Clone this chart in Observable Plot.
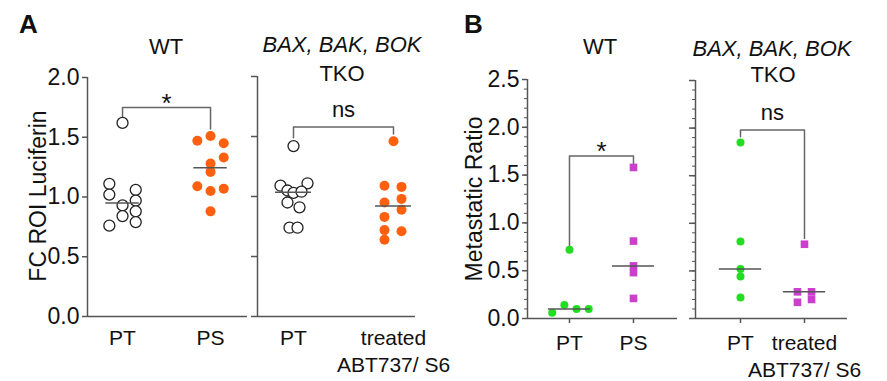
<!DOCTYPE html>
<html>
<head>
<meta charset="utf-8">
<script src="https://cdn.jsdelivr.net/npm/d3@7"></script>
<script src="https://cdn.jsdelivr.net/npm/@observablehq/plot@0.6"></script>
<style>
  html, body { margin: 0; padding: 0; background: #fff; }
  #root { position: relative; width: 887px; height: 381px; overflow: hidden; font-family: "Liberation Sans", Arial, Helvetica, sans-serif; color: #111; }
  .panel { position: absolute; top: 0; }
  .panel g[aria-label="y-axis tick label"] { font-size: 23px !important; }
  .panel g[aria-label="x-axis tick label"] { font-size: 21px !important; }
  .t { position: absolute; white-space: nowrap; line-height: 1; font-size: 22px; transform: translateX(-50%); }
  .letter { position: absolute; font-weight: bold; font-size: 26px; line-height: 1; }
  .ylab { position: absolute; white-space: nowrap; font-size: 23px; line-height: 1; transform: translate(-50%, -50%) rotate(-90deg); }
</style>
</head>
<body>
<div id="root"></div>
<script>
// ---------- Data ----------
// Panel A, WT
const aWT_groups = ["PT", "PS"];
const aWT_PT = [1.62, 1.11, 1.02, 1.06, 0.93, 0.97, 0.84, 0.88, 0.76, 0.79];
const aWT_PT_jitter = [0, -0.15, -0.15, 0.15, 0, 0.15, 0, 0.15, -0.15, 0.15];
const aWT_PS = [1.51, 1.47, 1.45, 1.33, 1.28, 1.21, 1.09, 1.07, 1.05, 0.88];
const aWT_PS_jitter = [0, -0.15, 0.15, 0.15, 0, 0, -0.15, 0.15, 0, 0];
const aWT_bracket = [1.665, 1.75, 1.57]; // left leg end, top, right leg end
const aWT_sig = "*";

// Panel A, BAX/BAK/BOK TKO
const aTKO_groups = ["PT", "treated\nABT737/ S6"];
const aTKO_PT = [1.42, 1.09, 1.11, 1.05, 1.03, 1.04, 0.95, 0.91, 0.74, 0.74];
const aTKO_PT_jitter = [0, -0.13, 0.14, -0.06, 0, 0.08, -0.06, 0.06, -0.04, 0.04];
const aTKO_TR = [1.46, 1.09, 1.08, 0.95, 0.98, 0.89, 0.83, 0.72, 0.71, 0.64];
const aTKO_TR_jitter = [0, -0.09, 0.08, -0.09, 0.08, 0.08, -0.09, -0.09, 0.08, -0.09];
const aTKO_bracket = [1.49, 1.58, 1.52];
const aTKO_sig = "ns";

// Panel B, WT
const bWT_groups = ["PT", "PS"];
const bWT_PT = [0.72, 0.06, 0.14, 0.10, 0.10];
const bWT_PT_jitter = [0, -0.27, -0.08, 0.11, 0.30];
const bWT_PS = [1.58, 0.81, 0.55, 0.48, 0.21];
const bWT_PS_jitter = [0, 0, 0, 0, 0];
const bWT_bracket = [0.76, 1.70, 1.62];
const bWT_sig = "*";

// Panel B, BAX/BAK/BOK TKO
const bTKO_groups = ["PT", "treated\nABT737/ S6"];
const bTKO_PT = [1.85, 0.81, 0.52, 0.44, 0.22];
const bTKO_PT_jitter = [0, 0, 0, 0, 0];
const bTKO_TR = [0.78, 0.28, 0.28, 0.17, 0.20];
const bTKO_TR_jitter = [0, -0.11, 0.11, -0.11, 0.11];
const bTKO_bracket = [1.91, 1.98, 0.84];
const bTKO_sig = "ns";

// Axis ticks
const aTicks = [0, 0.5, 1.0, 1.5, 2.0];
const bTicks = [0, 0.5, 1.0, 1.5, 2.0, 2.5];
const bMinorTicks = d3.range(0, 26).map(i => i / 10);

// ---------- Styles ----------
const AXIS = "#555";
const openStyle = {r: 5.5, fill: "white", stroke: "#222", strokeWidth: 1.3};
const orangeStyle = {r: 5, fill: "#ff6010"};
const greenStyle = {r: 4, fill: "#22dd22"};
const magentaStyle = {r: 4.3, fill: "#cc3fcc", symbol: "square"};

function panel(cfg) {
  const rows = cfg.series.flatMap((s, gi) => s.values.map((v, i) => ({g: gi, x: gi + s.jitter[i], v})));
  const meds = cfg.series.map((s, gi) => ({g: gi, m: d3.median(s.values)}));
  const [bl, bt, br] = cfg.bracket;
  const bracketPath = [{x: 0, y: bl}, {x: 0, y: bt}, {x: 1, y: bt}, {x: 1, y: br}];
  const marks = [];
  if (cfg.minor) {
    marks.push(Plot.axisY({ticks: cfg.minor, tickSize: 3, tickFormat: () => "", label: null, stroke: AXIS, strokeWidth: 1}));
  }
  marks.push(Plot.axisY({ticks: cfg.ticks, tickSize: cfg.labels ? 5 : 6, tickPadding: 3,
    tickFormat: cfg.labels ? d3.format(".1f") : () => "", label: null,
    stroke: AXIS, strokeWidth: 1.5, fill: "#111"}));
  marks.push(Plot.axisX({ticks: cfg.groups.map((_, i) => i), tickFormat: i => cfg.groups[i],
    tickSize: cfg.xTick, tickPadding: cfg.xPad, label: null, lineHeight: 1.3,
    stroke: AXIS, strokeWidth: 1.5, fill: "#111"}));
  marks.push(Plot.ruleY([cfg.ydom[0]], {stroke: AXIS, strokeWidth: 1.5}));
  marks.push(Plot.ruleX([cfg.xdom[0]], {y1: cfg.ydom[0], y2: cfg.ydom[1], stroke: AXIS, strokeWidth: 1.5}));
  marks.push(Plot.line(bracketPath, {x: "x", y: "y", stroke: "#666", strokeWidth: 1.5}));
  marks.push(Plot.text([cfg.sig], {x: 0.5, y: bt, text: d => d, fontSize: cfg.sig === "*" ? 26 : 22,
    lineAnchor: "middle", dy: cfg.sig === "*" ? -4 : -17, fill: "#111"}));
  cfg.series.forEach((s, gi) => {
    marks.push(Plot.dot(rows.filter(d => d.g === gi), {x: "x", y: "v", ...cfg.styles[gi]}));
  });
  marks.push(Plot.ruleY(meds, {y: "m", x1: d => d.g - cfg.medHalf, x2: d => d.g + cfg.medHalf, stroke: AXIS, strokeWidth: 1.5}));

  const svg = Plot.plot({
    width: cfg.width, height: 381,
    marginLeft: cfg.ml, marginRight: cfg.mr, marginTop: cfg.mt, marginBottom: cfg.mb,
    x: {type: "linear", domain: cfg.xdom},
    y: {domain: cfg.ydom},
    style: {fontFamily: "Liberation Sans, Arial, sans-serif", fontSize: "21px", background: "transparent", color: "#111", overflow: "visible"},
    marks
  });
  svg.classList.add("panel");
  svg.style.left = cfg.left + "px";
  return svg;
}

const root = document.getElementById("root");

root.appendChild(panel({
  left: 0, width: 250, ml: 87, mr: 3, mt: 77, mb: 65,
  xdom: [-0.398, 1.42], ydom: [0, 2], ticks: aTicks, labels: true, xTick: 0, xPad: 9,
  groups: aWT_groups,
  series: [{values: aWT_PT, jitter: aWT_PT_jitter}, {values: aWT_PS, jitter: aWT_PS_jitter}],
  styles: [openStyle, orangeStyle], bracket: aWT_bracket, sig: aWT_sig, medHalf: 0.19
}));
root.appendChild(panel({
  left: 250, width: 190, ml: 7, mr: 25, mt: 76, mb: 65,
  xdom: [-0.36, 1.22], ydom: [0, 2], ticks: aTicks, labels: false, xTick: 0, xPad: 9,
  groups: aTKO_groups,
  series: [{values: aTKO_PT, jitter: aTKO_PT_jitter}, {values: aTKO_TR, jitter: aTKO_TR_jitter}],
  styles: [openStyle, orangeStyle], bracket: aTKO_bracket, sig: aTKO_sig, medHalf: 0.18
}));
root.appendChild(panel({
  left: 440, width: 250, ml: 87, mr: 13, mt: 79, mb: 63,
  xdom: [-0.656, 1.6875], ydom: [0, 2.5], ticks: bTicks, minor: bMinorTicks, labels: true, xTick: 5, xPad: 7,
  groups: bWT_groups,
  series: [{values: bWT_PT, jitter: bWT_PT_jitter}, {values: bWT_PS, jitter: bWT_PS_jitter}],
  styles: [greenStyle, magentaStyle], bracket: bWT_bracket, sig: bWT_sig, medHalf: 0.33
}));
root.appendChild(panel({
  left: 685, width: 202, ml: 10, mr: 40, mt: 80, mb: 63,
  xdom: [-0.703, 1.672], ydom: [0, 2.5], ticks: bTicks, minor: bMinorTicks, labels: false, xTick: 5, xPad: 7,
  groups: bTKO_groups,
  series: [{values: bTKO_PT, jitter: bTKO_PT_jitter}, {values: bTKO_TR, jitter: bTKO_TR_jitter}],
  styles: [greenStyle, magentaStyle], bracket: bTKO_bracket, sig: bTKO_sig, medHalf: 0.33
}));

// ---------- Text overlays ----------
function addDiv(cls, text, style, html) {
  const d = document.createElement("div");
  d.className = cls;
  if (html) d.innerHTML = text; else d.textContent = text;
  Object.assign(d.style, style);
  root.appendChild(d);
}
addDiv("letter", "A", {left: "19px", top: "11px"});
addDiv("letter", "B", {left: "464px", top: "11px"});
addDiv("t", "WT", {left: "166px", top: "36px"});
addDiv("t", "<i>BAX, BAK, BOK</i>", {left: "342px", top: "34px"}, true);
addDiv("t", "TKO", {left: "342px", top: "63px"});
addDiv("t", "WT", {left: "600px", top: "36px"});
addDiv("t", "<i>BAX, BAK, BOK</i>", {left: "772px", top: "38px"}, true);
addDiv("t", "TKO", {left: "773px", top: "64px"});
addDiv("ylab", "FC ROI Luciferin", {left: "38px", top: "196px"});
addDiv("ylab", "Metastatic Ratio", {left: "474px", top: "199px"});
</script>
</body>
</html>
